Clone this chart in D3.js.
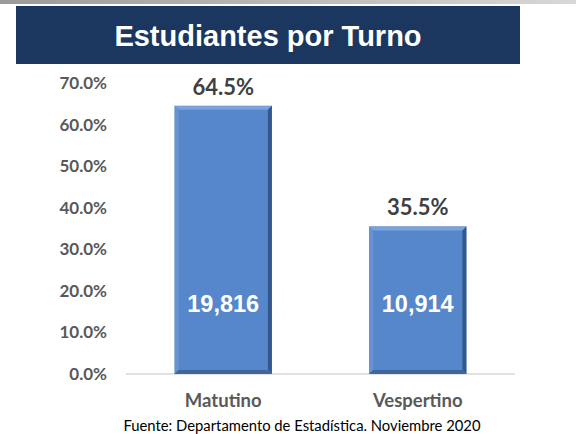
<!DOCTYPE html>
<html>
<head>
<meta charset="utf-8">
<script src="https://cdn.jsdelivr.net/npm/d3@7"></script>
<style>
  body { margin: 0; background: #fff; }
  svg { display: block; }
</style>
</head>
<body>
<div id="chart"></div>
<script>
// chart values
const categories = ["Matutino", "Vespertino"];
const percentages = [64.5, 35.5];
const students = ["19,816", "10,914"];
const yTicks = [0, 10, 20, 30, 40, 50, 60, 70];
const titleText = "Estudiantes por Turno";
const sourceText = "Fuente: Departamento de Estadística. Noviembre 2020";

const width = 576, height = 434;
const margin = {top: 83, right: 61, bottom: 60, left: 126};
const innerLabelValue = 17; // where the counts sit inside the bars

let svg = d3.select("#chart").append("svg")
        .attr("width", width)
        .attr("height", height);

let defs = svg.append("defs");
let topGrad = defs.append("linearGradient").attr("id", "topStrip");
topGrad.append("stop").attr("offset", "0").attr("stop-color", "#9a9a9a");
topGrad.append("stop").attr("offset", "1").attr("stop-color", "#d8d8d8");

// header strip and title box
svg.append("rect").attr("x", 0).attr("y", 0).attr("width", width).attr("height", 4)
        .attr("fill", "url(#topStrip)");
svg.append("rect").attr("x", 16).attr("y", 6).attr("width", 504).attr("height", 58)
        .attr("fill", "#1b375f");
svg.append("text")
        .attr("x", 268).attr("y", 46)
        .attr("text-anchor", "middle")
        .attr("font-family", "Liberation Sans, Arial, sans-serif")
        .attr("font-weight", "bold")
        .attr("font-size", 29)
        .attr("fill", "#ffffff")
        .text(titleText);

let x = d3.scaleBand()
        .domain(categories)
        .range([margin.left, width - margin.right])
        .paddingInner(0.5)
        .paddingOuter(0.25);

let y = d3.scaleLinear()
        .domain([0, 70])
        .range([height - margin.bottom, margin.top]);

// y axis labels
let yAxis = svg.append("g")
        .attr("transform", "translate(" + (margin.left - 19) + ",0)")
        .call(d3.axisLeft(y).tickValues(yTicks).tickSize(0).tickPadding(0)
                .tickFormat(d => d3.format(".1f")(d) + "%"));
yAxis.select(".domain").remove();
yAxis.selectAll("text")
        .attr("font-family", "Lato, sans-serif")
        .attr("font-weight", "bold")
        .attr("font-size", 17)
        .attr("fill", "#595959");

// baseline
svg.append("line")
        .attr("x1", margin.left).attr("x2", width - margin.right)
        .attr("y1", y(0)).attr("y2", y(0))
        .attr("stroke", "#d9d9d9").attr("stroke-width", 1.5);

// bars with a bevel look
let data = categories.map((c, i) => ({cat: c, pct: percentages[i], count: students[i]}));
let bars = svg.append("g").selectAll("g.bar")
        .data(data)
        .enter().append("g").attr("class", "bar");

const bev = 4;
bars.append("rect")
        .attr("x", d => x(d.cat))
        .attr("y", d => y(d.pct))
        .attr("width", x.bandwidth())
        .attr("height", d => y(0) - y(d.pct))
        .attr("fill", "#5787cb");
// top edge highlight
bars.append("path")
        .attr("fill", "#7aa2dc")
        .attr("d", d => {
            let x0 = x(d.cat), x1 = x0 + x.bandwidth(), y0 = y(d.pct);
            return `M${x0},${y0}L${x1},${y0}L${x1 - bev},${y0 + bev}L${x0 + bev},${y0 + bev}Z`;
        });
// left edge
bars.append("path")
        .attr("fill", "#6892d1")
        .attr("d", d => {
            let x0 = x(d.cat), y0 = y(d.pct), y1 = y(0);
            return `M${x0},${y0}L${x0 + bev},${y0 + bev}L${x0 + bev},${y1 - bev}L${x0},${y1}Z`;
        });
// right edge shadow
bars.append("path")
        .attr("fill", "#34588c")
        .attr("d", d => {
            let x1 = x(d.cat) + x.bandwidth(), y0 = y(d.pct), y1 = y(0);
            return `M${x1},${y0}L${x1},${y1}L${x1 - bev},${y1 - bev}L${x1 - bev},${y0 + bev}Z`;
        });
// bottom edge shadow
bars.append("path")
        .attr("fill", "#41669c")
        .attr("d", d => {
            let x0 = x(d.cat), x1 = x0 + x.bandwidth(), y1 = y(0);
            return `M${x0},${y1}L${x1},${y1}L${x1 - bev},${y1 - bev}L${x0 + bev},${y1 - bev}Z`;
        });

// percentage labels above bars
bars.append("text")
        .attr("x", d => x(d.cat) + x.bandwidth() / 2)
        .attr("y", d => y(d.pct) - 11)
        .attr("text-anchor", "middle")
        .attr("font-family", "Lato, sans-serif")
        .attr("font-weight", "bold")
        .attr("font-size", 22)
        .attr("fill", "#404040")
        .text(d => d3.format(".1f")(d.pct) + "%");

// student counts inside bars
bars.append("text")
        .attr("x", d => x(d.cat) + x.bandwidth() / 2)
        .attr("y", y(innerLabelValue))
        .attr("dy", "0.35em")
        .attr("text-anchor", "middle")
        .attr("font-family", "Liberation Sans, Arial, sans-serif")
        .attr("font-weight", "bold")
        .attr("font-size", 23.5)
        .attr("fill", "#ffffff")
        .text(d => d.count);

// category labels
svg.append("g").selectAll("text")
        .data(categories)
        .enter().append("text")
        .attr("x", d => x(d) + x.bandwidth() / 2)
        .attr("y", y(0) + 33)
        .attr("text-anchor", "middle")
        .attr("font-family", "Lato, sans-serif")
        .attr("font-weight", "bold")
        .attr("font-size", 18.5)
        .attr("fill", "#595959")
        .text(d => d);

// source note
svg.append("text")
        .attr("x", 302).attr("y", 431)
        .attr("text-anchor", "middle")
        .attr("font-family", "Lato, sans-serif")
        .attr("font-size", 14.8)
        .attr("fill", "#000000")
        .text(sourceText);
</script>
</body>
</html>
